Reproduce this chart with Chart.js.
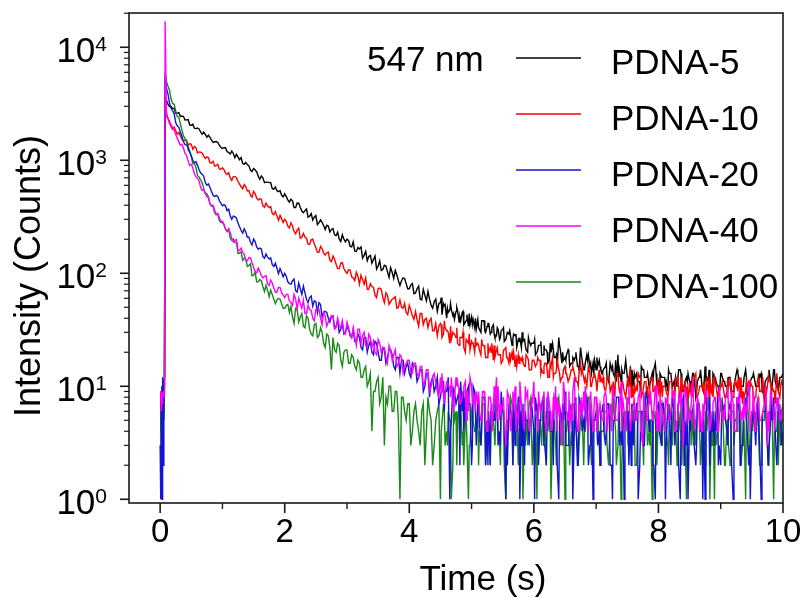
<!DOCTYPE html>
<html>
<head>
<meta charset="utf-8">
<script src="https://cdn.jsdelivr.net/npm/chart.js@4.4.1/dist/chart.umd.min.js"></script>
<style>
  html, body { margin: 0; padding: 0; background: #ffffff; }
  canvas { display: block; }
</style>
</head>
<body>
<canvas id="c" width="810" height="598"></canvas>
<script>
// ---------- data ----------
const SERIES_NAMES = ['PDNA-5', 'PDNA-10', 'PDNA-20', 'PDNA-40', 'PDNA-100'];
const WAVELENGTH_LABEL = '547 nm';
const X_TITLE = 'Time (s)';
const Y_TITLE = 'Intensity (Counts)';
const X_MAJOR_TICKS = [0, 2, 4, 6, 8, 10];
const X_MINOR_TICKS = [1, 3, 5, 7, 9];
const Y_DECADE_EXPONENTS = [0, 1, 2, 3, 4];

// sampling grid A
const TIME = [
  0.00,0.01,0.02,0.03,0.04,0.05,0.06,0.07,0.08,
  0.10,0.15,0.20,0.25,0.30,0.35,0.40,0.45,0.50,0.55,0.60,0.65,0.70,0.75,0.80,0.85,0.90,0.95,1.00,1.05,
  1.10,1.15,1.20,1.25,1.30,1.35,1.40,1.45,1.50,1.55,1.60,1.65,1.70,1.75,1.80,1.85,1.90,1.95,2.00,2.05,
  2.10,2.15,2.20,2.25,2.30,2.35,2.40,2.45,2.50,2.55,2.60,2.65,2.70,2.75,2.80,2.85,2.90,2.95,3.00,3.05,
  3.10,3.15,3.20,3.25,3.30,3.35,3.40,3.45,3.50,3.55,3.60,3.65,3.70,3.75,3.80,3.85,3.90,3.95,4.00,4.05,
  4.10,4.15,4.20,4.25,4.30,4.35,4.40,4.45,4.50,4.55,4.60,4.65,4.70,4.75,4.80,4.85,4.90,4.95,5.00,5.05,
  5.10,5.15,5.20,5.25,5.30,5.35,5.40,5.45,5.50,5.55,5.60,5.65,5.70,5.75,5.80,5.85,5.90,5.95,6.00,6.05,
  6.10,6.15,6.20,6.25,6.30,6.35,6.40,6.45,6.50,6.55,6.60,6.65,6.70,6.75,6.80,6.85,6.90,6.95,7.00,7.05,
  7.10,7.15,7.20,7.25,7.30,7.35,7.40,7.45,7.50,7.55,7.60,7.65,7.70,7.75,7.80,7.85,7.90,7.95,8.00,8.05,
  8.10,8.15,8.20,8.25,8.30,8.35,8.40,8.45,8.50,8.55,8.60,8.65,8.70,8.75,8.80,8.85,8.90,8.95,9.00,9.05,
  9.10,9.15,9.20,9.25,9.30,9.35,9.40,9.45,9.50,9.55,9.60,9.65,9.70,9.75,9.80,9.85,9.90,9.95,10.00
];

// sampling grid B (between grid A points)
const TIME_B = [
  0.125,0.175,0.225,0.275,0.325,0.375,0.425,0.475,0.525,0.575,0.625,0.675,0.725,0.775,0.825,0.875,0.925,0.975,1.025,1.075,
  1.125,1.175,1.225,1.275,1.325,1.375,1.425,1.475,1.525,1.575,1.625,1.675,1.725,1.775,1.825,1.875,1.925,1.975,2.025,2.075,
  2.125,2.175,2.225,2.275,2.325,2.375,2.425,2.475,2.525,2.575,2.625,2.675,2.725,2.775,2.825,2.875,2.925,2.975,3.025,3.075,
  3.125,3.175,3.225,3.275,3.325,3.375,3.425,3.475,3.525,3.575,3.625,3.675,3.725,3.775,3.825,3.875,3.925,3.975,4.025,4.075,
  4.125,4.175,4.225,4.275,4.325,4.375,4.425,4.475,4.525,4.575,4.625,4.675,4.725,4.775,4.825,4.875,4.925,4.975,5.025,5.075,
  5.125,5.175,5.225,5.275,5.325,5.375,5.425,5.475,5.525,5.575,5.625,5.675,5.725,5.775,5.825,5.875,5.925,5.975,6.025,6.075,
  6.125,6.175,6.225,6.275,6.325,6.375,6.425,6.475,6.525,6.575,6.625,6.675,6.725,6.775,6.825,6.875,6.925,6.975,7.025,7.075,
  7.125,7.175,7.225,7.275,7.325,7.375,7.425,7.475,7.525,7.575,7.625,7.675,7.725,7.775,7.825,7.875,7.925,7.975,8.025,8.075,
  8.125,8.175,8.225,8.275,8.325,8.375,8.425,8.475,8.525,8.575,8.625,8.675,8.725,8.775,8.825,8.875,8.925,8.975,9.025,9.075,
  9.125,9.175,9.225,9.275,9.325,9.375,9.425,9.475,9.525,9.575,9.625,9.675,9.725,9.775,9.825,9.875,9.925,9.975
];

// sampling grid C (extra samples in the noisy tail)
const TIME_C = [
  4.5125,4.5625,4.6125,4.6625,4.7125,4.7625,4.8125,4.8625,4.9125,4.9625,5.0125,5.0625,5.1125,5.1625,5.2125,5.2625,5.3125,5.3625,5.4125,5.4625,
  5.5125,5.5625,5.6125,5.6625,5.7125,5.7625,5.8125,5.8625,5.9125,5.9625,6.0125,6.0625,6.1125,6.1625,6.2125,6.2625,6.3125,6.3625,6.4125,6.4625,
  6.5125,6.5625,6.6125,6.6625,6.7125,6.7625,6.8125,6.8625,6.9125,6.9625,7.0125,7.0625,7.1125,7.1625,7.2125,7.2625,7.3125,7.3625,7.4125,7.4625,
  7.5125,7.5625,7.6125,7.6625,7.7125,7.7625,7.8125,7.8625,7.9125,7.9625,8.0125,8.0625,8.1125,8.1625,8.2125,8.2625,8.3125,8.3625,8.4125,8.4625,
  8.5125,8.5625,8.6125,8.6625,8.7125,8.7625,8.8125,8.8625,8.9125,8.9625,9.0125,9.0625,9.1125,9.1625,9.2125,9.2625,9.3125,9.3625,9.4125,9.4625,
  9.5125,9.5625,9.6125,9.6625,9.7125,9.7625,9.8125,9.8625,9.9125,9.9625
];

const PDNA_5 = [
  7,9,6,10,8,9,11,12,3500,
  3400,2990,2880,2605,2645,2460,2270,2290,2040,1920,1930,1780,1780,1600,1595,1440,1465,1360,1275,1290,
  1175,1205,1055,1065,1055,920,915,820,845,790,680,700,640,635,560,580,527,490,505,446,
  452,382,419,382,344,370,320,296,324,281,282,244,262,244,219,231,191,201,200,173,
  190,156,164,136,156,141,123,142,116,106,118,103,112,90,97,78,91,81,73,81,
  67,77,58,64,69,52,56,46,55,54,40,47,42,46,37,45,37,34,41,33,
  39,30,38,34,29,35,28,26,32,26,29,23,28,26,22,26,20,23,24,20,
  23,19,21,17,24,18,27,16,18,21,16,17,15,22,14,19,15,16,14,17,
  13,15,11,14,12,19,11,13,12,15,10,13,11,14,12,10,13,16,11,12,
  12,9,13,11,10,14,9,12,11,13,8,12,10,15,11,9,12,10,13,11,
  10,12,9,13,11,10,14,9,12,11,10,13,8,12,11,14,10,12,13
];
const PDNA_5_B = [
  3140,2994,2872,2614,2440,2438,2276,2050,2086,1906,1891,1698,1697,1669,1504,1458,1437,1297,1294,1188,
  1134,1149,1128,1011,936,958,893,795,823,724,727,634,641,634,554,538,539,475,477,426,
  438,381,417,355,358,314,338,313,270,297,265,266,232,249,216,200,219,190,195,171,
  157,169,171,144,129,144,132,109,129,108,116,92,102,106,86,86,90,73,79,66,
  73,59,72,57,59,49,59,54,43,53,45,48,39,47,38,35,43,35,39,32,
  32,38,30,36,33,27,32,31,25,30,28,29,22,27,25,21,25,24,19,23,
  19,21,16,20,18,15,21,17,19,15,18,20,14,17,16,19,13,17,15,14,
  14,12,16,13,11,14,13,17,10,14,12,11,15,12,13,11,14,10,13,12,
  11,13,10,12,14,9,11,13,10,12,11,14,9,12,10,13,11,8,12,10,
  12,9,11,13,10,12,8,11,13,10,12,9,11,14,10,11,9,12
];
const PDNA_5_C = [
  61,52,49,54,44,50,41,46,38,44,35,40,33,38,31,36,30,29,33,27,
  33,28,31,26,29,25,30,23,27,24,26,21,25,23,20,24,21,19,23,20,
  17,20,16,18,15,19,14,17,16,13,18,15,14,16,13,15,17,12,14,13,
  12,10,13,11,9,14,12,10,11,13,9,12,10,14,11,9,12,13,10,11,
  11,13,9,12,10,11,14,9,12,10,13,11,9,12,10,14,11,10,12,9,
  12,10,13,9,11,12,10,14,11,12
];

const PDNA_10 = [
  5,8,3,7,2,9,6,10,2600,
  2470,2236,1880,1822,1760,1542,1509,1360,1382,1326,1161,1181,1087,1071,950,979,895,839,859,771,
  777,664,717,651,583,611,535,492,531,462,457,394,418,382,339,352,294,304,300,261,
  279,235,241,204,225,204,180,201,168,153,165,145,154,127,133,110,123,110,100,107,
  91,102,80,88,91,72,76,64,73,72,55,64,56,60,49,58,49,45,52,42,
  46,34,44,39,33,40,31,28,36,29,31,24,30,27,23,27,20,24,25,20,
  24,19,23,18,22,17,21,19,17,22,16,20,15,19,17,15,18,14,17,16,
  17,13,16,12,18,13,14,12,15,11,14,13,11,16,12,10,13,12,11,14,
  11,9,12,10,8,13,10,9,11,14,8,10,12,9,11,7,12,10,9,11,
  10,8,11,9,12,7,10,9,11,8,13,9,10,7,11,9,12,8,10,9,
  9,11,8,10,12,7,9,11,10,8,12,9,7,10,11,9,13,8,10
];
const PDNA_10_B = [
  2341,1976,1960,1698,1645,1480,1504,1402,1252,1295,1183,1157,1038,1055,945,887,922,830,826,749,
  699,716,704,616,560,582,540,471,508,445,451,384,395,389,329,322,326,281,288,252,
  262,224,251,207,209,180,198,182,153,173,151,152,130,142,120,110,124,104,108,93,
  86,94,96,80,72,81,75,61,74,61,67,53,59,62,50,50,54,43,47,39,
  39,44,35,40,38,31,36,34,27,33,30,26,29,24,27,22,26,21,24,23,
  21,23,18,20,24,18,19,16,21,18,17,20,15,18,16,19,14,17,15,17,
  14,16,12,15,13,17,11,14,13,12,15,11,13,14,12,15,10,13,11,12,
  10,12,9,11,13,9,11,8,12,10,9,13,8,11,10,12,9,11,8,10,
  9,11,8,12,10,9,11,7,10,12,8,10,11,9,12,8,10,9,11,8,
  10,8,11,9,12,8,10,11,7,10,9,12,8,11,10,7,9,11
];
const PDNA_10_C = [
  35,38,31,34,29,33,27,30,26,29,24,27,23,26,21,24,20,23,22,19,
  21,18,20,17,19,16,18,15,17,14,16,18,13,15,14,16,12,14,13,12,
  13,11,14,12,10,13,11,12,10,13,9,11,12,10,11,9,12,10,11,9,
  10,8,11,9,12,10,8,11,9,10,12,8,10,9,11,8,10,12,9,10,
  9,11,8,10,9,12,8,10,11,9,10,8,12,9,10,11,8,9,11,10,
  10,8,11,9,10,12,8,9,11,10
];

const PDNA_20 = [
  3,1,9,1,12,2,8,12,5500,
  4360,3221,2732,2156,1957,1630,1377,1310,1090,954,901,771,719,601,575,490,489,440,395,394,
  369,300,317,278,239,248,208,188,201,171,167,140,148,134,119,123,99,102,100,84,
  80,89,68,73,77,59,61,51,56,55,41,46,40,42,33,38,32,29,34,28,
  32,25,27,21,27,23,20,25,20,17,21,18,21,15,18,13,17,15,13,16,
  15,12,14,10,13,11,9,12,8,11,9,1,10,7,9,6,8,10,2,9,
  7,3,8,5,2,6,9,4,6,1,7,5,3,8,6,2,5,7,4,6,
  5,8,2,6,4,7,1,5,9,3,6,4,2,7,5,8,3,1,6,4,
  6,3,7,2,5,8,4,1,6,5,3,7,2,6,9,4,5,1,7,3,
  5,7,2,6,4,1,8,3,5,6,2,7,4,1,6,5,3,8,2,6,
  4,7,1,5,6,3,8,2,5,4,7,1,6,3,5,8,2,6,4
];
const PDNA_20_B = [
  3868,2882,2589,2020,1766,1456,1370,1194,1000,969,825,753,635,617,530,477,479,417,404,358,
  323,321,307,258,227,232,209,178,191,163,164,136,139,137,115,111,110,93,94,81,
  86,70,82,65,67,55,63,57,45,53,45,45,37,42,34,30,36,30,32,27,
  25,29,22,27,20,25,19,24,17,22,16,21,19,14,18,17,13,16,12,15,
  11,14,9,13,8,12,10,7,11,9,12,5,9,8,11,4,9,7,10,3,
  5,8,2,6,4,7,3,9,5,2,6,8,4,1,7,5,3,6,8,2,
  7,3,6,4,8,2,6,5,3,7,1,5,8,4,6,2,7,5,3,6,
  4,7,2,5,8,3,6,4,2,7,5,1,6,3,8,5,2,6,4,7,
  3,6,8,4,2,7,5,1,6,3,7,4,5,8,2,6,4,3,7,5,
  6,2,5,8,3,6,4,1,7,5,3,6,8,2,5,4,7,3
];
const PDNA_20_C = [
  9,6,10,4,8,7,2,9,5,7,3,6,8,4,7,2,6,5,8,3,
  6,4,7,2,5,8,3,6,4,7,1,5,6,3,8,4,2,6,5,7,
  3,6,5,8,2,6,4,7,3,5,6,2,7,4,5,1,6,8,3,5,
  6,2,5,7,4,3,8,5,2,6,4,7,1,5,6,3,7,4,2,6,
  4,7,3,6,1,5,8,4,6,2,5,7,3,6,4,8,2,5,6,3,
  5,3,7,4,6,2,8,5,3,6
];

const PDNA_40 = [
  8,9,6,9,7,9,8,10,17000,
  2700,2094,1968,1690,1455,1386,1149,983,922,761,692,575,546,476,415,399,328,312,288,247,
  248,203,196,161,167,147,129,137,113,101,104,91,95,78,82,68,75,67,61,65,
  55,65,48,54,58,44,48,40,48,48,35,42,37,41,32,40,33,30,37,29,
  33,23,32,28,23,29,22,20,26,20,22,16,21,19,15,19,13,16,17,13,
  16,12,15,11,14,10,13,9,12,8,11,10,7,12,9,8,11,6,10,8,
  7,5,9,4,8,6,12,5,7,3,8,6,10,5,7,4,9,6,11,5,
  6,8,4,7,5,10,6,3,8,5,7,12,4,6,9,5,7,4,8,6,
  5,9,6,4,7,5,11,6,8,4,7,5,9,3,6,8,5,10,6,7,
  4,8,6,9,5,7,3,8,6,12,5,7,4,9,6,5,8,4,7,6,
  8,5,7,4,9,6,5,11,6,4,8,5,7,3,9,6,8,5,7
];
const PDNA_40_B = [
  2357,2082,1860,1571,1359,1275,1097,900,855,712,659,541,506,468,395,363,339,286,272,235,
  229,189,199,159,153,129,138,124,102,111,95,94,80,87,74,68,75,64,65,57,
  52,59,60,49,44,52,47,38,49,40,45,34,40,42,33,34,38,29,33,27,
  27,32,24,30,22,27,25,19,24,22,18,23,17,21,16,18,15,17,13,16,
  13,15,10,14,9,12,11,8,13,9,10,12,8,11,7,10,9,12,7,9,
  6,9,5,8,4,7,10,6,5,9,4,7,6,11,5,8,4,7,6,9,
  7,5,9,4,6,8,5,11,6,4,9,6,7,5,10,4,6,8,5,7,
  8,4,7,9,5,6,8,4,10,6,5,8,4,7,5,9,6,4,8,5,
  7,5,9,4,8,6,10,5,7,4,8,6,5,9,4,7,6,10,5,8,
  6,9,4,7,5,8,6,4,9,7,5,6,10,4,7,5,8,6
];
const PDNA_40_C = [
  9,7,11,8,6,10,7,9,5,8,7,6,9,5,8,6,7,10,5,7,
  8,5,6,9,4,7,6,10,5,8,6,4,7,9,5,6,8,4,7,5,
  6,9,5,7,4,8,6,5,9,6,4,7,5,8,6,10,5,7,4,6,
  7,5,8,6,4,9,5,7,6,10,4,6,8,5,7,4,6,9,5,6,
  5,8,6,4,7,9,5,6,8,4,7,5,10,6,4,8,6,5,7,9,
  6,4,8,5,7,6,9,4,7,5
];

const PDNA_100 = [
  4,6,3,5,4,6,5,9,6000,
  5000,4168,3181,2732,2410,1843,1559,1226,1085,932,733,672,563,505,410,391,333,293,283,246,
  245,195,187,150,155,136,115,121,96,84,88,76,78,62,65,54,60,54,49,53,
  51,36,48,41,34,42,32,28,36,28,30,22,28,14,21,24,17,20,21,16,
  18,14,16,12,15,11,4,9,12,8,3,7,10,6,9,1,8,5,7,4,
  7,4,6,2,8,5,3,6,1,7,4,5,2,6,8,3,5,1,6,4,
  6,3,7,4,2,5,8,3,6,1,5,7,4,2,6,5,3,8,4,1,
  5,7,2,6,4,3,8,5,1,6,4,7,3,5,2,6,8,4,5,3,
  4,6,2,7,5,3,1,6,8,4,5,2,6,3,7,4,1,5,6,3,
  6,3,5,8,2,4,7,1,5,6,3,7,4,2,6,5,1,4,7,3,
  5,2,6,4,7,3,1,5,6,4,8,2,5,3,6,1,4,7,5
];
const PDNA_100_B = [
  4550,3499,3128,2430,2103,1643,1452,1179,930,863,709,628,512,475,393,341,332,282,268,234,
  204,201,188,151,130,134,117,95,102,84,86,69,71,71,59,58,59,49,52,45,
  41,49,37,44,33,40,29,35,27,33,24,29,22,27,20,23,15,21,16,19,
  15,17,12,14,10,13,9,11,7,12,8,10,6,9,5,8,6,7,3,6,
  5,3,7,4,6,2,5,7,4,3,6,1,5,4,7,2,6,3,5,4,
  4,7,2,5,6,3,4,7,2,5,8,3,6,4,1,5,7,2,6,5,
  3,6,4,1,5,7,3,6,4,2,7,5,3,6,4,8,2,5,7,4,
  6,3,5,8,2,6,4,5,3,7,2,6,4,8,3,5,6,2,4,7,
  4,7,3,5,6,2,4,8,3,5,7,2,6,4,1,6,3,5,8,2,
  3,6,4,7,2,5,8,3,6,4,2,5,7,3,6,4,2,5
];
const PDNA_100_C = [
  4,6,3,5,7,2,5,4,6,3,7,4,2,6,5,3,6,4,7,2,
  5,3,6,2,7,4,5,3,6,4,2,7,5,3,6,4,5,2,6,3,
  4,6,3,5,2,7,4,6,3,5,7,2,4,6,3,5,4,6,2,5,
  3,5,7,4,6,2,5,3,6,4,7,3,5,2,6,4,3,7,5,4,
  6,3,5,4,2,6,7,3,5,4,6,2,5,7,3,4,6,3,5,2,
  4,6,3,5,7,2,5,4,6,3
];

// ---------- styling ----------
const COLORS = ['#000000', '#ff0000', '#1414d0', '#ff00ff', '#178a17'];
const DRAW_ORDER = [4, 3, 1, 0, 2];   // lower = drawn on top
const FONT = '"Liberation Sans", Arial, Helvetica, sans-serif';

const VALUES_A = [PDNA_5, PDNA_10, PDNA_20, PDNA_40, PDNA_100];
const VALUES_B = [PDNA_5_B, PDNA_10_B, PDNA_20_B, PDNA_40_B, PDNA_100_B];
const VALUES_C = [PDNA_5_C, PDNA_10_C, PDNA_20_C, PDNA_40_C, PDNA_100_C];
[[VALUES_A, TIME], [VALUES_B, TIME_B], [VALUES_C, TIME_C]].forEach(([set, t], g) => {
  set.forEach((v, i) => { if (v.length !== t.length) console.error('length mismatch', g, SERIES_NAMES[i], v.length, t.length); });
});

function buildPoints(i) {
  const pts = [];
  TIME.forEach((t, k) => pts.push({ x: t, y: VALUES_A[i][k] }));
  TIME_B.forEach((t, k) => pts.push({ x: t, y: VALUES_B[i][k] }));
  TIME_C.forEach((t, k) => pts.push({ x: t, y: VALUES_C[i][k] }));
  return pts.sort((p, q) => p.x - q.x);
}

const datasets = SERIES_NAMES.map((name, i) => ({
  label: name,
  data: buildPoints(i),
  borderColor: COLORS[i],
  backgroundColor: COLORS[i],
  borderWidth: 1.4,
  pointRadius: 0,
  tension: 0,
  fill: false,
  order: DRAW_ORDER[i]
}));

const decorations = {
  id: 'decorations',
  afterDraw(chart) {
    const ctx = chart.ctx;
    const a = chart.chartArea;
    const xs = chart.scales.x, ys = chart.scales.y;
    ctx.save();
    ctx.fillStyle = '#000';
    ctx.strokeStyle = '#1a1a1a';

    // frame
    ctx.lineWidth = 1.6;
    ctx.strokeRect(a.left, a.top, a.right - a.left, a.bottom - a.top);

    // x ticks + labels
    ctx.font = '33px ' + FONT;
    ctx.textAlign = 'center';
    ctx.textBaseline = 'alphabetic';
    X_MAJOR_TICKS.forEach(v => {
      const px = xs.getPixelForValue(v);
      ctx.lineWidth = 1.6;
      ctx.beginPath(); ctx.moveTo(px, a.bottom); ctx.lineTo(px, a.bottom + 10); ctx.stroke();
      ctx.fillText(String(v), px, 542);
    });
    X_MINOR_TICKS.forEach(v => {
      const px = xs.getPixelForValue(v);
      ctx.lineWidth = 1.4;
      ctx.beginPath(); ctx.moveTo(px, a.bottom); ctx.lineTo(px, a.bottom + 6); ctx.stroke();
    });

    // y ticks + labels
    Y_DECADE_EXPONENTS.forEach(e => {
      const py = ys.getPixelForValue(Math.pow(10, e));
      ctx.lineWidth = 1.6;
      ctx.beginPath(); ctx.moveTo(a.left - 9, py); ctx.lineTo(a.left, py); ctx.stroke();
      ctx.lineWidth = 1.2;
      for (let m = 2; m <= 9; m++) {
        const v = m * Math.pow(10, e);
        if (v > ys.max) break;
        const pm = ys.getPixelForValue(v);
        ctx.beginPath(); ctx.moveTo(a.left - 5, pm); ctx.lineTo(a.left, pm); ctx.stroke();
      }
      const rightX = 107;
      ctx.textAlign = 'right';
      ctx.font = '21px ' + FONT;
      const expStr = String(e);
      const ew = ctx.measureText(expStr).width;
      ctx.fillText(expStr, rightX, py + 4);
      ctx.font = '35px ' + FONT;
      ctx.fillText('10', rightX - ew, py + 15);
    });

    // axis titles
    ctx.textAlign = 'center';
    ctx.font = '35px ' + FONT;
    ctx.fillText(X_TITLE, 483, 590);
    ctx.save();
    ctx.translate(40, 276);
    ctx.rotate(-Math.PI / 2);
    ctx.font = '36px ' + FONT;
    ctx.fillText(Y_TITLE, 0, 0);
    ctx.restore();

    // annotation + legend
    ctx.textAlign = 'left';
    ctx.font = '35px ' + FONT;
    ctx.fillText(WAVELENGTH_LABEL, 367, 71);
    chart.data.datasets.forEach((ds, i) => {
      const ly = 58 + i * 56;
      ctx.strokeStyle = ds.borderColor;
      ctx.lineWidth = 1.4;
      ctx.beginPath(); ctx.moveTo(516, ly); ctx.lineTo(581, ly); ctx.stroke();
      ctx.fillStyle = '#000';
      ctx.fillText(ds.label, 611, ly + 16);
    });
    ctx.restore();
  }
};

new Chart(document.getElementById('c'), {
  type: 'line',
  data: { datasets },
  options: {
    responsive: false,
    animation: false,
    devicePixelRatio: 1,
    layout: { padding: { left: 129, right: 27, top: 13, bottom: 95 } },
    plugins: { legend: { display: false }, tooltip: { enabled: false } },
    scales: {
      x: { type: 'linear', min: -0.5, max: 10, display: false },
      y: { type: 'logarithmic', min: 0.927, max: 20100, display: false }
    }
  },
  plugins: [decorations]
});
</script>
</body>
</html>
